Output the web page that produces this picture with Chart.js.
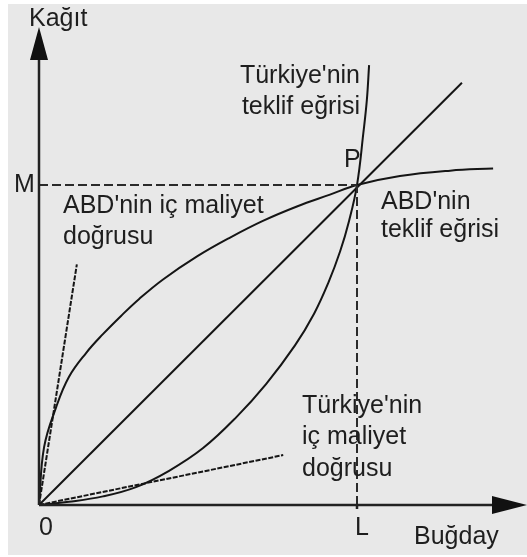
<!DOCTYPE html>
<html lang="tr">
<head>
<meta charset="UTF-8">
<title>Teklif eğrileri</title>
<script src="https://cdn.jsdelivr.net/npm/chart.js@4/dist/chart.umd.min.js"></script>
<style>
  body { margin: 0; background: #fff; }
  canvas { display: block; }
</style>
<script>
  // equilibrium point P = (L, M)
  const L = 10
  const M = 10
  const xMax = 15.22
  const yMax = 14.94

  // Türkiye'nin teklif eğrisi (convex, bends up through P)
  const trOfferX = [0, 0.94, 2.01, 3.05, 4.09, 5.16, 6.2, 7.14, 8.05, 8.65, 9.1, 9.47, 9.75, 10, 10.2, 10.31, 10.38]
  const trOfferY = [0, 0.1, 0.27, 0.56, 1.07, 1.78, 2.74, 3.78, 4.99, 5.98, 6.95, 7.93, 8.88, 10, 11.63, 12.66, 13.75]

  // ABD'nin teklif eğrisi (concave, flattens after P)
  const usOfferX = [0, 0.16, 0.54, 0.94, 1.48, 2.01, 2.58, 3.15, 3.9, 4.97, 6.01, 7.04, 8.11, 9.15, 10, 11.35, 12.93, 14.28]
  const usOfferY = [0, 1.81, 3.06, 4.0, 4.75, 5.34, 5.91, 6.44, 7.05, 7.77, 8.36, 8.88, 9.33, 9.7, 10, 10.28, 10.45, 10.52]

  // iç maliyet doğruları and the terms-of-trade ray through P
  const usCostX = [0, 1.19]
  const usCostY = [0, 7.52]
  const trCostX = [0, 7.68]
  const trCostY = [0, 1.56]
  const rayX = [0, 13.3]
  const rayY = [0, 13.2]

  const labels = [
    { text: 'Kağıt', x: 29, y: 26 },
    { text: 'Türkiye\'nin', x: 360, y: 83, align: 'right' },
    { text: 'teklif eğrisi', x: 360, y: 114, align: 'right' },
    { text: 'P', x: 344, y: 167 },
    { text: 'M', x: 14, y: 192 },
    { text: 'ABD\'nin iç maliyet', x: 63, y: 213 },
    { text: 'doğrusu', x: 63, y: 244 },
    { text: 'ABD\'nin', x: 381, y: 209 },
    { text: 'teklif eğrisi', x: 381, y: 237 },
    { text: 'Türkiye\'nin', x: 302, y: 413 },
    { text: 'iç maliyet', x: 302, y: 444 },
    { text: 'doğrusu', x: 302, y: 476 },
    { text: '0', x: 39, y: 535 },
    { text: 'L', x: 355, y: 535 },
    { text: 'Buğday', x: 414, y: 544 }
  ]

  function pts(xs, ys) {
    return xs.map((x, i) => ({ x: x, y: ys[i] }))
  }

  function curve(xs, ys, extra) {
    return Object.assign({
      data: pts(xs, ys),
      showLine: true,
      borderColor: '#151515',
      borderWidth: 2,
      pointRadius: 0,
      fill: false,
      clip: false,
      tension: 0.4
    }, extra || {})
  }

  const paperPlugin = {
    id: 'paper',
    beforeDraw(chart) {
      const ctx = chart.ctx
      ctx.save()
      ctx.fillStyle = '#e8e8e8'
      ctx.fillRect(8, 4, chart.width - 8, chart.height - 6)
      ctx.restore()
    },
    afterDatasetsDraw(chart) {
      const ctx = chart.ctx
      const xs = chart.scales.x
      const ys = chart.scales.y
      const x0 = xs.getPixelForValue(0)
      const y0 = ys.getPixelForValue(0)
      const xEnd = xs.getPixelForValue(xMax)
      const yEnd = ys.getPixelForValue(yMax)

      ctx.save()
      ctx.strokeStyle = '#222'
      ctx.fillStyle = '#111'
      ctx.lineWidth = 2.5
      ctx.beginPath()
      ctx.moveTo(x0, y0)
      ctx.lineTo(x0, yEnd + 20)
      ctx.moveTo(x0, y0)
      ctx.lineTo(xEnd - 20, y0)
      // little tick under L
      ctx.moveTo(xs.getPixelForValue(L), y0)
      ctx.lineTo(xs.getPixelForValue(L), y0 + 4)
      ctx.stroke()

      // arrow heads
      ctx.beginPath()
      ctx.moveTo(x0, yEnd)
      ctx.lineTo(x0 - 9, yEnd + 33)
      ctx.lineTo(x0 + 9, yEnd + 33)
      ctx.closePath()
      ctx.fill()
      ctx.beginPath()
      ctx.moveTo(xEnd + 4, y0)
      ctx.lineTo(xEnd - 31, y0 - 9)
      ctx.lineTo(xEnd - 31, y0 + 9)
      ctx.closePath()
      ctx.fill()

      ctx.font = '25px "Liberation Sans", Arial, sans-serif'
      ctx.fillStyle = '#1e1e1e'
      ctx.textBaseline = 'alphabetic'
      labels.forEach(l => {
        ctx.textAlign = l.align || 'left'
        ctx.fillText(l.text, l.x, l.y)
      })
      ctx.restore()
    }
  }

  window.onload = function() {
    const ctx = document.getElementById('chart').getContext('2d')

    const chart = new Chart(ctx, {
      type: 'scatter',
      data: {
        datasets: [
          curve([0, L], [M, M], { borderDash: [9, 4], borderColor: '#2a2a2a', tension: 0 }),
          curve([L, L], [0, M], { borderDash: [9, 4], borderColor: '#2a2a2a', tension: 0 }),
          curve(rayX, rayY, { tension: 0 }),
          curve(usCostX, usCostY, { borderDash: [5, 1.5], tension: 0 }),
          curve(trCostX, trCostY, { borderDash: [5, 1.5], tension: 0 }),
          curve(usOfferX, usOfferY),
          curve(trOfferX, trOfferY)
        ]
      },
      options: {
        responsive: false,
        animation: false,
        layout: { padding: { left: 39, top: 27, right: 4, bottom: 52 } },
        plugins: { legend: { display: false }, tooltip: { enabled: false } },
        scales: {
          x: { type: 'linear', min: 0, max: xMax, display: false },
          y: { type: 'linear', min: 0, max: yMax, display: false }
        }
      },
      plugins: [paperPlugin]
    })
  }
</script>
</head>
<body>
<canvas id="chart" width="527" height="557"></canvas>
</body>
</html>
